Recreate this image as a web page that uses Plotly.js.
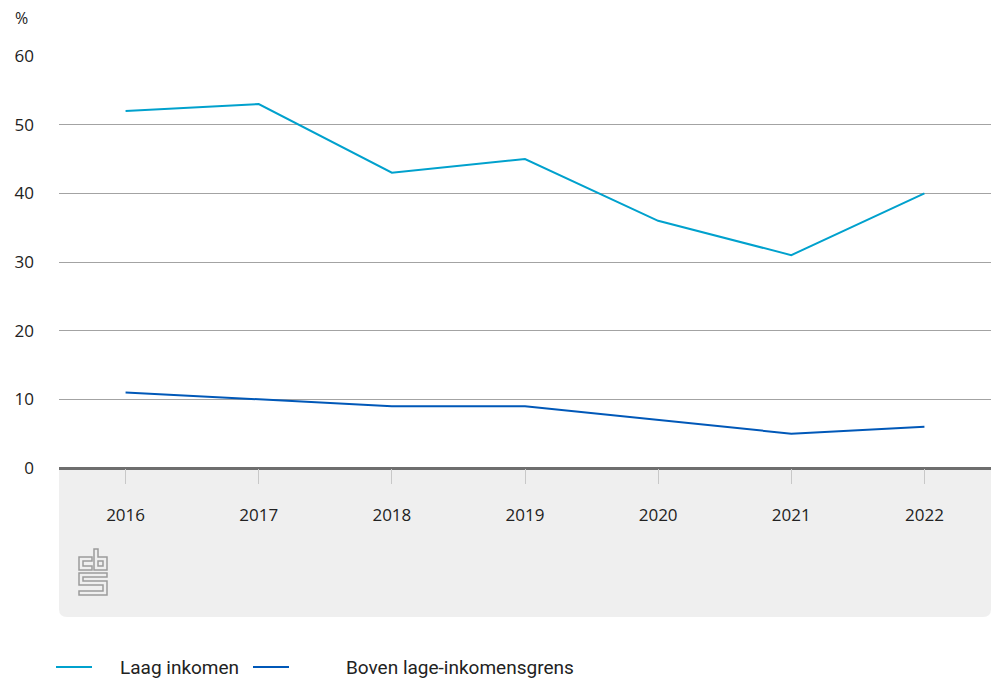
<!DOCTYPE html>
<html>
<head>
<meta charset="utf-8">
<script src="https://cdn.plot.ly/plotly-3.0.1.min.js"></script>
<style>html,body{margin:0;padding:0;background:#fff}#chart{width:991px;height:682px}</style>
</head>
<body>
<div id="chart"></div>
<script>
const years = [2016, 2017, 2018, 2019, 2020, 2021, 2022];
const laagInkomen = [52, 53, 43, 45, 36, 31, 40];
const bovenGrens = [11, 10, 9, 9, 7, 5, 6];
const seriesNames = ["Laag inkomen", "Boven lage-inkomensgrens"];
const seriesColors = ["#00a1cd", "#0058b8"];
const yTicks = [0, 10, 20, 30, 40, 50, 60];

const font = "Open Sans, Noto Sans, sans-serif";

const traces = [
  {x: years, y: laagInkomen, name: seriesNames[0], type: "scatter", mode: "lines",
   line: {color: seriesColors[0], width: 2}, showlegend: false},
  {x: years, y: bovenGrens, name: seriesNames[1], type: "scatter", mode: "lines",
   line: {color: seriesColors[1], width: 2}, showlegend: false}
];

// plot box in pixels (for positioning decorations in paper coords)
const L = 59, T = 56, W = 932, H = 412;
const px = x => (x - L) / W;
const py = y => (T + H - y) / H;

// rounded grey band under the axis
const yb = py(617), rx = 8 / W, ry = 8 / H;
const bandPath = `M0,0 L1,0 L1,${yb + ry} Q1,${yb} ${1 - rx},${yb} L${rx},${yb} Q0,${yb} 0,${yb + ry} Z`;

function poly(pts) {
  return "M" + pts.map(p => px(p[0]) + "," + py(p[1])).join(" L") + " Z";
}
const logoParts = [
  poly([[92,557],[79,557],[79,570],[92,570],[92,566],[83,566],[83,561],[92,561]]),
  poly([[94,549],[98,549],[98,557],[107,557],[107,570],[94,570]]),
  poly([[98,561],[103,561],[103,566],[98,566]]),
  poly([[79,573],[107,573],[107,577],[83,577],[83,581],[107,581],[107,595],[79,595],[79,591],[103,591],[103,585],[79,585]])
];

const shapes = [
  {type: "path", xref: "paper", yref: "paper", path: bandPath,
   fillcolor: "#efefef", line: {width: 0}, layer: "below"}
].concat(logoParts.map(p => ({type: "path", xref: "paper", yref: "paper", path: p,
   fillcolor: "rgba(0,0,0,0)", line: {color: "#9c9c9c", width: 1.5}, layer: "above"})));

// custom legend
const legendX = [56, 253];
const legendTextX = [118, 344];
const legendY = 667;
seriesNames.forEach((n, i) => {
  shapes.push({type: "line", xref: "paper", yref: "paper",
    x0: px(legendX[i]), x1: px(legendX[i] + 36), y0: py(legendY), y1: py(legendY),
    line: {color: seriesColors[i], width: 2}});
});

const annotations = [
  {text: "%", xref: "paper", yref: "paper", x: px(21), y: py(18), xanchor: "center", yanchor: "middle",
   showarrow: false, font: {size: 16, color: "#222"}}
].concat(seriesNames.map((n, i) => ({text: n, xref: "paper", yref: "paper",
   x: px(legendTextX[i]), y: py(legendY), xanchor: "left", yanchor: "middle", showarrow: false,
   font: {family: "Roboto, sans-serif", size: 19, color: "#222"}})));

const layout = {
  width: 991, height: 682,
  margin: {l: L, r: 991 - L - W, t: T, b: 682 - T - H},
  paper_bgcolor: "#ffffff", plot_bgcolor: "rgba(0,0,0,0)",
  font: {family: font, size: 17, color: "#222"},
  showlegend: false,
  xaxis: {range: [2015.5, 2022.5], tickvals: years, ticktext: years.map(String),
    showgrid: false, zeroline: false, showline: false,
    ticks: "outside", ticklen: 15, tickcolor: "#c8c8c8", tickwidth: 1,
    ticklabelstandoff: 17, tickfont: {size: 17, color: "#222"}, fixedrange: true},
  yaxis: {range: [0, 60], tickvals: yTicks, showgrid: true, gridcolor: "#a3a3a3", gridwidth: 1,
    zeroline: true, zerolinecolor: "#6e6e6e", zerolinewidth: 3, showline: false,
    ticks: "", ticklabelstandoff: 24, tickfont: {size: 17, color: "#222"}, fixedrange: true},
  shapes: shapes,
  annotations: annotations
};

Plotly.newPlot("chart", traces, layout, {displayModeBar: false, staticPlot: true});
</script>
</body>
</html>
